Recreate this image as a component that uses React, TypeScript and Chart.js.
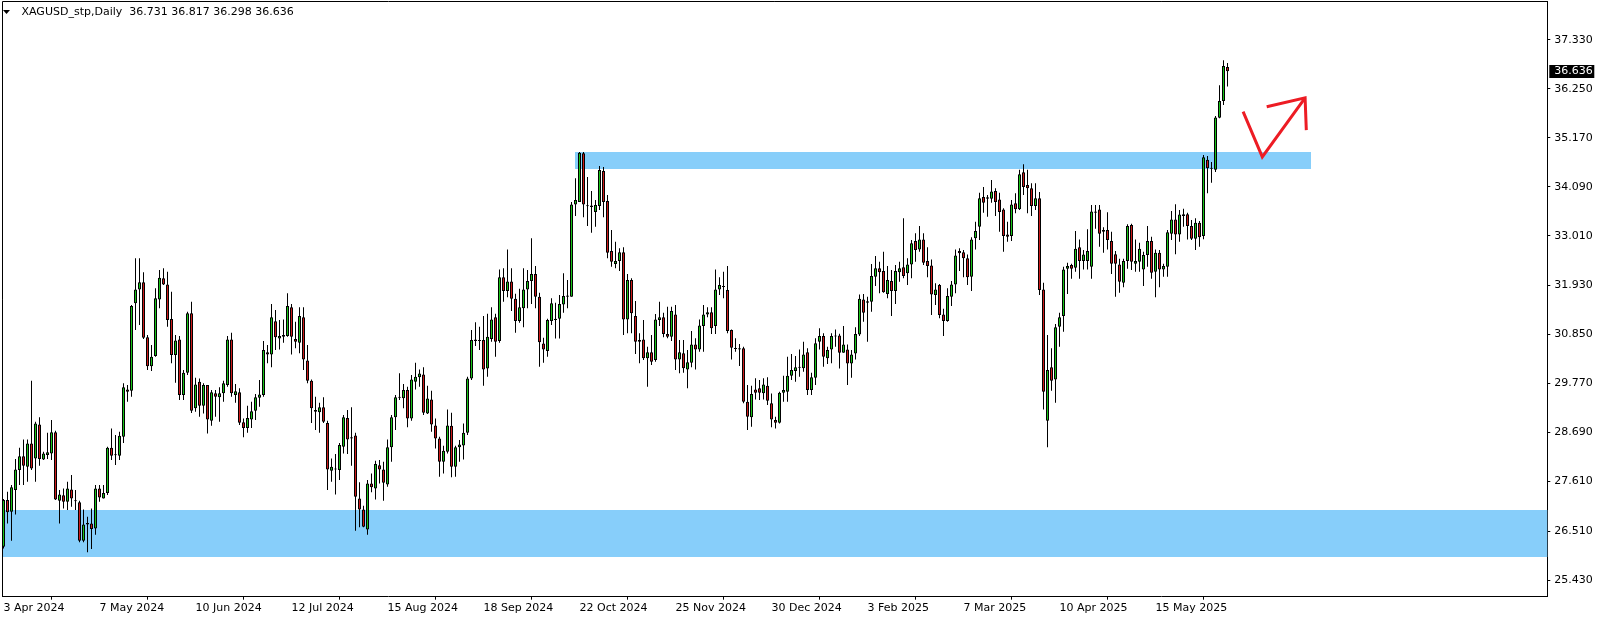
import React, { useEffect, useRef } from "react";
import { Chart, registerables } from "chart.js";

Chart.register(...registerables);

const chartTitle = "XAGUSD_stp,Daily";

const opens = [
  26.17,27.20,26.94,27.42,27.86,28.16,27.93,28.44,28.11,28.86,
  28.09,28.19,28.22,28.69,27.18,27.30,27.16,27.43,27.19,27.15,
  26.30,26.69,26.68,26.57,27.45,27.23,27.35,28.35,28.20,28.17,
  28.59,29.63,29.60,31.53,31.83,31.99,30.78,30.14,30.37,31.61,
  32.08,31.94,31.18,30.39,30.73,29.51,30.00,31.31,29.22,29.80,
  29.27,29.73,28.94,29.55,29.46,29.55,29.73,30.73,29.51,29.57,
  28.91,28.78,28.97,29.16,29.45,29.51,30.45,30.40,31.13,30.75,
  30.79,30.81,31.44,30.74,30.66,31.22,30.27,29.82,29.18,29.13,
  29.24,28.89,27.84,27.89,27.86,28.37,29.00,28.58,28.62,27.23,
  26.99,26.55,27.56,27.45,27.96,27.87,27.54,28.36,29.02,29.47,
  29.44,29.62,28.99,29.80,29.90,29.96,29.10,29.41,28.84,28.55,
  28.04,28.26,28.83,27.93,28.36,28.40,28.68,29.87,30.73,30.72,
  30.72,30.09,30.74,31.22,30.70,32.10,31.80,32.01,31.63,31.14,
  31.42,31.83,32.02,32.17,31.67,30.64,30.48,31.14,31.16,31.19,
  31.50,31.67,31.67,33.70,33.76,34.83,33.68,33.68,33.54,33.67,
  34.44,33.78,32.68,32.39,32.46,32.65,31.17,32.04,31.25,30.72,
  30.73,30.32,30.45,30.28,31.16,31.22,30.85,30.79,31.28,30.29,
  30.43,30.07,30.22,30.62,30.51,31.03,31.28,31.33,31.03,31.83,
  31.91,31.82,30.94,30.54,30.54,30.54,29.36,29.02,29.63,29.66,
  29.55,29.71,29.33,28.96,28.90,29.56,29.58,29.93,30.04,30.11,
  30.10,30.45,29.62,29.89,30.68,30.81,30.32,30.51,30.82,30.82,
  30.44,30.51,30.20,30.42,30.84,31.61,31.57,31.56,32.11,32.30,
  32.24,31.73,32.02,31.80,32.21,32.32,32.19,32.38,32.90,32.71,
  32.93,32.46,32.36,31.71,31.93,31.28,31.14,31.67,31.94,32.68,
  32.65,32.52,32.11,32.96,33.21,33.87,33.86,33.83,34.00,33.81,
  33.59,33.04,33.01,33.73,33.60,34.41,34.13,34.06,33.67,33.84,
  31.83,28.94,30.12,29.85,31.01,31.25,32.29,32.37,32.31,32.76,
  32.46,32.46,32.33,33.55,33.59,33.14,33.14,32.90,32.61,32.38,
  31.98,32.46,33.25,32.40,32.44,32.27,32.59,32.90,32.22,32.64,
  32.27,32.33,33.06,33.37,33.04,33.49,33.49,33.23,32.95,33.30,
  33.01,34.69,34.51,34.47,35.61,35.98,36.731,
];

const highs = [
  27.22,27.38,27.53,28.10,28.35,28.53,28.53,29.82,28.92,29.02,
  28.26,28.68,28.96,28.72,27.42,27.45,27.60,27.75,27.42,27.18,
  26.99,26.83,27.01,27.53,27.53,27.53,28.37,28.77,28.63,28.70,
  29.77,29.73,31.49,32.52,32.52,32.21,30.83,30.61,31.86,32.26,
  32.30,32.22,31.78,30.83,30.81,30.06,31.34,31.56,29.89,29.87,
  29.77,29.73,29.62,29.62,29.68,29.82,30.81,30.88,29.75,29.66,
  28.99,29.27,29.36,29.53,29.84,30.70,30.61,31.51,31.38,31.16,
  31.17,31.75,31.51,31.12,31.44,31.44,30.61,29.85,29.47,29.34,
  29.46,28.94,28.11,28.21,28.45,29.07,29.18,29.24,28.68,27.59,
  27.07,27.64,27.78,28.06,28.08,28.04,28.53,29.07,29.51,29.99,
  29.75,29.69,29.95,30.22,30.07,30.12,29.71,29.60,28.99,28.59,
  28.39,29.19,29.12,28.39,28.52,28.88,29.91,30.94,31.11,31.01,
  31.25,31.30,31.44,31.30,32.27,32.30,32.71,32.30,31.74,31.85,
  32.30,32.26,32.96,32.35,31.76,30.77,31.19,31.64,31.54,31.71,
  32.19,32.04,33.76,34.28,34.86,34.86,34.31,34.00,33.80,34.55,
  34.53,33.91,33.14,32.88,32.74,32.76,32.17,32.08,31.58,30.87,
  31.16,30.57,30.83,31.29,31.56,31.32,31.45,31.45,31.49,30.72,
  30.72,30.50,30.92,30.76,31.17,31.49,31.44,31.44,32.27,32.10,
  32.22,32.35,30.95,30.76,30.63,30.57,29.73,29.71,29.88,29.84,
  29.88,29.90,29.54,29.03,29.58,29.93,30.35,30.41,30.37,30.51,
  30.68,30.54,30.00,30.76,30.98,30.87,30.57,30.87,30.95,30.86,
  31.03,30.62,30.50,31.00,31.72,31.73,31.67,32.39,32.57,32.44,
  32.66,32.35,32.26,32.37,32.44,33.40,32.52,32.92,33.07,33.23,
  33.07,32.76,32.49,31.97,31.95,31.41,31.86,32.02,32.71,32.74,
  32.70,32.60,32.98,33.32,33.96,34.09,33.91,34.24,34.06,33.96,
  33.62,33.32,33.80,33.95,34.47,34.59,34.47,34.17,34.17,33.98,
  31.98,30.83,30.54,31.07,31.32,32.33,32.42,32.40,33.12,32.93,
  32.70,33.16,33.69,33.69,33.69,33.20,33.53,33.10,32.68,32.51,
  32.51,33.27,33.28,32.93,32.86,32.66,33.23,32.99,32.71,32.70,
  32.40,33.14,33.56,33.71,33.58,33.61,33.52,33.36,33.40,33.34,
  34.79,34.77,34.64,35.65,36.33,36.88,36.817,
];

const lows = [
  26.13,26.68,26.30,26.88,27.53,27.53,27.60,27.86,27.60,27.95,
  28.08,28.10,28.08,27.20,26.68,27.01,26.98,27.05,26.98,26.27,
  26.27,26.05,26.12,26.43,27.16,27.23,27.31,28.08,27.97,28.08,
  28.45,29.36,29.47,30.94,31.05,30.74,30.06,30.04,30.35,31.42,
  31.93,31.01,30.21,29.78,29.40,29.40,29.95,29.11,29.14,29.03,
  29.10,28.66,28.83,29.03,28.92,29.36,29.69,29.47,29.34,28.85,
  28.58,28.68,28.78,28.96,29.25,29.47,30.21,30.12,30.50,30.51,
  30.66,30.79,30.40,30.54,30.43,30.06,29.77,28.89,28.74,28.68,
  28.89,27.42,27.60,27.32,27.64,28.22,28.21,27.95,26.52,26.60,
  26.60,26.43,27.37,27.21,27.56,27.18,27.49,28.04,28.74,29.40,
  29.22,28.80,28.94,29.63,29.69,29.07,29.09,28.70,28.33,27.71,
  27.78,28.22,27.70,27.71,28.04,28.09,28.63,29.84,30.59,30.50,
  29.71,29.91,30.68,30.35,30.66,31.56,31.66,31.36,30.88,31.10,
  31.00,31.42,31.51,31.42,30.13,30.22,30.35,31.05,30.75,30.75,
  31.32,31.42,31.67,33.45,33.76,33.42,33.23,33.08,33.21,33.58,
  33.42,32.52,32.33,32.30,32.24,30.83,30.87,30.87,30.41,30.21,
  30.28,29.69,30.17,30.24,31.03,30.78,30.76,30.70,30.06,29.99,
  30.00,29.66,30.12,30.07,30.46,30.46,31.22,30.85,30.85,31.71,
  31.64,30.87,30.29,30.46,30.15,29.33,28.74,28.81,29.41,29.40,
  29.41,29.29,28.80,28.77,28.88,29.36,29.36,29.84,29.80,29.91,
  30.02,29.51,29.51,29.73,30.51,30.13,30.19,30.21,30.57,30.09,
  30.44,29.73,29.89,30.29,30.81,31.12,30.68,31.34,31.91,31.75,
  31.76,31.64,31.25,31.51,32.00,32.08,31.93,32.08,32.44,32.66,
  32.37,32.10,31.27,31.49,31.20,30.81,31.12,31.47,31.75,32.24,
  32.10,31.93,31.80,32.71,32.92,33.52,33.43,33.74,33.45,33.10,
  32.66,32.88,32.90,33.51,33.58,33.91,33.51,33.45,33.58,31.71,
  29.19,28.36,29.60,29.34,30.57,30.90,31.73,32.07,32.22,32.07,
  32.27,32.27,32.07,33.17,32.77,32.64,32.71,32.17,31.67,31.76,
  31.88,32.29,32.26,32.22,32.22,31.91,32.33,32.07,31.66,31.88,
  32.11,32.11,32.92,32.61,32.88,33.21,32.93,32.92,32.70,32.77,
  32.94,33.95,34.18,34.42,35.60,35.89,36.298,
];

const closes = [
  27.20,26.93,27.48,27.87,28.16,27.95,28.44,27.89,28.88,28.10,
  28.22,28.25,28.69,27.21,27.32,27.16,27.45,27.23,27.17,26.30,
  26.66,26.66,26.56,27.45,27.25,27.35,28.35,28.17,28.19,28.61,
  29.68,29.58,31.47,31.83,31.99,30.77,30.14,30.35,31.64,32.09,
  31.94,31.16,30.39,30.71,29.51,30.00,31.31,29.16,29.74,29.27,
  29.73,28.97,29.57,29.47,29.55,29.77,30.73,29.55,29.59,28.90,
  28.78,29.00,29.15,29.46,29.52,30.50,30.40,31.22,30.78,30.81,
  30.83,31.47,30.79,30.68,31.25,30.29,29.82,29.22,29.14,29.24,
  28.92,27.87,27.93,27.87,28.41,29.02,28.53,28.55,27.27,26.99,
  26.61,27.56,27.48,27.99,27.87,27.58,28.36,29.02,29.46,29.45,
  29.62,28.99,29.85,29.91,29.98,29.12,29.43,28.86,28.55,28.04,
  28.28,28.84,27.93,28.36,28.42,28.68,29.87,30.72,30.70,30.70,
  30.07,30.79,31.17,30.68,32.10,31.80,32.01,31.63,31.14,31.44,
  31.83,32.02,32.17,31.67,30.67,30.51,31.16,31.53,31.19,31.51,
  31.69,31.70,33.70,33.80,34.84,33.70,33.67,33.65,33.69,34.46,
  33.76,32.64,32.44,32.46,32.65,31.17,32.04,31.31,30.68,30.68,
  30.32,30.45,30.24,31.17,31.22,30.85,30.79,31.36,30.29,30.45,
  30.10,30.23,30.62,30.51,31.04,31.28,31.33,30.98,31.83,31.93,
  31.89,30.92,30.55,30.52,30.51,29.36,29.03,29.53,29.56,29.56,
  29.74,29.38,28.97,28.90,29.56,29.62,29.93,30.06,30.12,30.13,
  30.40,29.62,29.90,30.65,30.81,30.35,30.50,30.81,30.80,30.44,
  30.62,30.20,30.40,30.85,31.63,31.32,31.54,32.13,32.30,32.21,
  31.77,32.04,31.80,32.24,32.30,32.13,32.38,32.85,32.70,32.93,
  32.42,32.35,31.72,31.83,31.27,31.14,31.69,31.94,32.58,32.63,
  32.52,32.10,32.93,33.12,33.84,33.74,33.83,33.99,33.76,33.54,
  33.01,32.99,33.70,33.60,34.37,34.09,34.06,33.67,33.84,31.82,
  29.58,30.06,29.82,31.00,31.22,32.27,32.35,32.29,32.73,32.46,
  32.60,32.68,33.55,33.52,33.06,33.10,32.92,32.40,32.40,32.00,
  32.46,33.23,32.44,32.46,32.73,32.59,32.90,32.20,32.64,32.27,
  32.35,33.09,33.37,33.04,33.48,33.45,33.23,32.95,33.30,32.98,
  34.74,34.50,34.49,35.62,35.98,36.75,36.636,
];

const dateTickIndex = [0, 24, 48, 72, 96, 120, 144, 168, 192, 216, 240, 264, 288];
const dateTickLabels = [
  "3 Apr 2024", "7 May 2024", "10 Jun 2024", "12 Jul 2024", "15 Aug 2024",
  "18 Sep 2024", "22 Oct 2024", "25 Nov 2024", "30 Dec 2024", "3 Feb 2025",
  "7 Mar 2025", "10 Apr 2025", "15 May 2025",
];
const priceTicks = [37.33, 36.25, 35.17, 34.09, 33.01, 31.93, 30.85, 29.77, 28.69, 27.61, 26.51, 25.43];

// zones (bar-index range, price range)
const zoneStart = [-2, 142.95];
const zoneEnd = [400, 326.8];
const zoneLow = [25.95, 34.48];
const zoneHigh = [26.98, 34.85];

// hand-drawn arrow (bar index, price)
const arrowPathX = [309.9, 314.7, 325.4];
const arrowPathY = [35.745, 34.75, 36.05];
const arrowHeadX = [315.8, 325.4, 325.7];
const arrowHeadY = [35.855, 36.05, 35.34];

const X_MIN = -0.375;
const X_MAX = 385.95;
const Y_MIN = 25.069;
const Y_MAX = 38.182;

const BULL = "#18c418";
const BEAR = "#cc1a1a";
const ZONE = "#87cefa";
const ARROW = "#ed1c24";
const FONT = "DejaVu Sans";

export default function App() {
  const ref = useRef<HTMLCanvasElement | null>(null);

  useEffect(() => {
    document.body.style.margin = "0";
    const canvas = ref.current;
    if (!canvas) return;

    const idx = closes.map((_, i) => i);
    const bodies = idx.map((i) => {
      let lo = Math.min(opens[i], closes[i]);
      let hi = Math.max(opens[i], closes[i]);
      if (hi - lo < 0.022) {
        const m = (hi + lo) / 2;
        lo = m - 0.011;
        hi = m + 0.011;
      }
      return { x: i, y: [lo, hi] };
    });
    const wicks = idx.map((i) => ({ x: i, y: [lows[i], highs[i]] }));
    const bodyColors = idx.map((i) => (closes[i] >= opens[i] ? BULL : BEAR));
    const arrowPath = arrowPathX.map((x, k) => ({ x, y: arrowPathY[k] }));
    const arrowHead = arrowHeadX.map((x, k) => ({ x, y: arrowHeadY[k] }));

    const overlay = {
      id: "mt4overlay",
      beforeDatasetsDraw(chart: any) {
        const { ctx, chartArea, scales } = chart;
        const xs = scales.x;
        const ys = scales.y;
        ctx.save();
        ctx.beginPath();
        ctx.rect(chartArea.left, chartArea.top, chartArea.right - chartArea.left, chartArea.bottom - chartArea.top);
        ctx.clip();
        ctx.fillStyle = ZONE;
        for (let k = 0; k < zoneLow.length; k++) {
          const x0 = Math.round(xs.getPixelForValue(zoneStart[k]));
          const x1 = Math.round(xs.getPixelForValue(zoneEnd[k]));
          const y0 = Math.round(ys.getPixelForValue(zoneHigh[k]));
          const y1 = Math.round(ys.getPixelForValue(zoneLow[k]));
          ctx.fillRect(x0, y0, x1 - x0, y1 - y0);
        }
        ctx.restore();
      },
      afterDraw(chart: any) {
        const { ctx, chartArea, scales } = chart;
        const ys = scales.y;
        ctx.save();
        // frame (left & top)
        ctx.strokeStyle = "#000";
        ctx.lineWidth = 1;
        ctx.beginPath();
        ctx.moveTo(chartArea.left + 0.5, chartArea.bottom);
        ctx.lineTo(chartArea.left + 0.5, chartArea.top + 0.5);
        ctx.lineTo(chartArea.right, chartArea.top + 0.5);
        ctx.stroke();
        // title
        ctx.fillStyle = "#000";
        ctx.beginPath();
        ctx.moveTo(3, 10);
        ctx.lineTo(10, 10);
        ctx.lineTo(6.5, 14);
        ctx.closePath();
        ctx.fill();
        ctx.font = `11px "${FONT}"`;
        ctx.textBaseline = "middle";
        ctx.textAlign = "left";
        const last = closes.length - 1;
        const fmt = (v: number) => v.toFixed(3);
        ctx.fillText(
          `${chartTitle}  ${fmt(opens[last])} ${fmt(highs[last])} ${fmt(lows[last])} ${fmt(closes[last])}`,
          21.5,
          12.5
        );
        // current price box
        const py = Math.round(ys.getPixelForValue(closes[last]));
        ctx.fillStyle = "#000";
        ctx.fillRect(chartArea.right + 2, py - 6, 45, 13);
        ctx.fillStyle = "#fff";
        ctx.fillText(fmt(closes[last]), chartArea.right + 7, py + 0.5);
        ctx.restore();
      },
    };

    const chart = new Chart(canvas, {
      type: "bar",
      data: {
        datasets: [
          {
            type: "bar",
            data: bodies as any,
            backgroundColor: bodyColors,
            borderColor: "#000",
            borderWidth: 1,
            borderSkipped: false,
            barThickness: 3,
            grouped: false,
            inflateAmount: 0,
            order: 0,
          } as any,
          {
            type: "bar",
            data: wicks as any,
            backgroundColor: "#000",
            borderWidth: 0,
            barThickness: 1,
            grouped: false,
            inflateAmount: 0,
            order: 1,
          } as any,
          {
            type: "line",
            data: arrowPath as any,
            borderColor: ARROW,
            borderWidth: 3,
            pointRadius: 0,
            fill: false,
            tension: 0,
            order: 2,
          } as any,
          {
            type: "line",
            data: arrowHead as any,
            borderColor: ARROW,
            borderWidth: 3,
            pointRadius: 0,
            fill: false,
            tension: 0,
            order: 2,
          } as any,
        ],
      },
      options: {
        animation: false,
        responsive: false,
        devicePixelRatio: 1,
        events: [],
        layout: { padding: { left: 2, top: 1, right: 0, bottom: 0 } },
        plugins: {
          legend: { display: false },
          tooltip: { enabled: false },
          title: { display: false },
        },
        scales: {
          x: {
            type: "linear",
            min: X_MIN,
            max: X_MAX,
            bounds: "data",
            position: "bottom",
            offset: false,
            grid: { display: true, drawOnChartArea: false, drawTicks: true, tickLength: 3, color: "#000", lineWidth: 1 },
            border: { display: true, color: "#000", width: 1 },
            ticks: {
              autoSkip: false,
              maxRotation: 0,
              minRotation: 0,
              align: "start",
              padding: 2,
              color: "#000",
              font: { family: FONT, size: 11 },
              callback: (_v: any, i: number) => dateTickLabels[i] ?? "",
            },
            afterBuildTicks: (s: any) => {
              s.ticks = dateTickIndex.map((v) => ({ value: v }));
            },
            afterFit: (s: any) => {
              s.height = 24.3;
              s.paddingLeft = 0;
              s.paddingRight = 0;
            },
          } as any,
          y: {
            type: "linear",
            position: "right",
            min: Y_MIN,
            max: Y_MAX,
            bounds: "data",
            grid: { display: true, drawOnChartArea: false, drawTicks: true, tickLength: 3, color: "#000", lineWidth: 1 },
            border: { display: true, color: "#000", width: 1 },
            ticks: {
              autoSkip: false,
              padding: 4,
              color: "#000",
              font: { family: FONT, size: 11 },
              callback: (v: any) => Number(v).toFixed(3),
            },
            afterBuildTicks: (s: any) => {
              s.ticks = priceTicks.map((v) => ({ value: v }));
            },
            afterFit: (s: any) => {
              s.width = 56.7;
              s.paddingTop = 0;
              s.paddingBottom = 0;
            },
          } as any,
        },
      },
      plugins: [overlay],
    });

    return () => chart.destroy();
  }, []);

  return (
    <canvas
      ref={ref}
      width={1604}
      height={621}
      style={{ display: "block", width: 1604, height: 621, background: "#fff" }}
    />
  );
}
